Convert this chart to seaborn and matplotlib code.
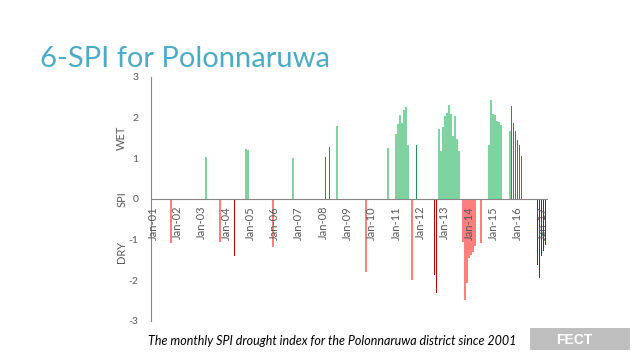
import matplotlib
matplotlib.use("Agg")
import matplotlib.pyplot as plt
import seaborn as sns
import numpy as np
import pandas as pd
from matplotlib.patches import Rectangle

# ---------------- data (monthly 6-SPI, only |SPI| >= 1 shown) ----------------
lg_months = ["2003-03", "2004-11", "2004-12", "2006-10", "2008-08", "2010-09",
             "2011-01", "2011-02", "2011-03", "2011-04", "2011-05", "2011-06", "2011-07",
             "2012-10", "2012-11", "2012-12", "2013-01", "2013-02", "2013-03", "2013-04",
             "2013-05", "2013-06", "2013-07", "2013-08",
             "2014-11", "2014-12", "2015-01", "2015-02", "2015-03", "2015-04", "2015-05",
             "2015-09"]
lg_values = [1.04, 1.23, 1.20, 1.02, 1.79, 1.25,
             1.59, 1.84, 2.06, 1.87, 2.20, 2.26, 1.32,
             1.71, 1.18, 1.77, 2.04, 2.12, 2.32, 2.08,
             1.55, 2.05, 1.47, 1.18,
             1.33, 2.43, 2.09, 2.06, 1.93, 1.90, 1.83,
             1.66]

dg_months = ["2008-02", "2008-04", "2011-11", "2015-10", "2015-11", "2015-12",
             "2016-01", "2016-02", "2016-03"]
dg_values = [1.04, 1.28, 1.32, 2.28, 1.88, 1.66, 1.45, 1.32, 1.05]

lr_months = ["2001-10", "2003-10", "2005-12", "2009-10", "2011-09",
             "2013-10", "2013-11", "2013-12", "2014-01", "2014-02", "2014-03", "2014-04",
             "2014-07"]
lr_values = [-1.09, -1.05, -1.17, -1.80, -1.98,
             -1.05, -2.49, -2.06, -1.45, -1.37, -1.30, -1.15,
             -1.09]

dr_months = ["2004-05", "2012-08", "2012-09", "2016-11", "2016-12", "2017-01",
             "2017-02", "2017-03"]
dr_values = [-1.39, -1.87, -2.30, -1.63, -1.95, -1.40, -1.27, -1.12]

tick_labels = ["Jan-%02d" % y for y in range(1, 18)]
y_ticks = [-3, -2, -1, 0, 1, 2, 3]

title = "6-SPI for Polonnaruwa"
caption = "The monthly SPI drought index for the Polonnaruwa district since 2001"
badge = "FECT"

# ---------------- helpers ----------------
N_MONTHS = 195


def month_index(s):
    y, m = s.split("-")
    return (int(y) - 2001) * 12 + int(m) - 1


def full_series(months, values):
    v = np.zeros(N_MONTHS)
    for mo, val in zip(months, values):
        v[month_index(mo)] = val
    return pd.DataFrame({"month": np.arange(N_MONTHS), "spi": v})


sns.set_theme(style="white")
plt.rcParams["font.family"] = ["Lato", "DejaVu Sans"]

fig = plt.figure(figsize=(6.4, 3.6), dpi=100)
ax = fig.add_axes([151 / 640, 1 - 321 / 360, 396 / 640, 244 / 360])

series = [
    (lg_months, lg_values, "#7fd3a0", 1.0, True),
    (lr_months, lr_values, "#ff7f7f", 1.0, True),
    (dg_months, dg_values, "#1a9450", 0.5, False),
    (dr_months, dr_values, "#c00000", 0.5, False),
]
for months, values, col, w, aa in series:
    df = full_series(months, values)
    sns.barplot(data=df, x="month", y="spi", native_scale=True, width=w,
                color=col, saturation=1, linewidth=0, edgecolor="none",
                antialiased=aa, errorbar=None, ax=ax)

ax.set_xlim(-1, 194.5)
ax.set_ylim(-3, 3)
ax.set_xlabel("")
ax.set_ylabel("")
ax.set_axisbelow(False)

ax.set_xticks(np.arange(0, 17 * 12, 12), tick_labels)
ax.set_yticks(y_ticks, [str(t) for t in y_ticks])

for s in ["top", "right"]:
    ax.spines[s].set_visible(False)
ax.spines["bottom"].set_position(("data", 0))
ax.spines["bottom"].set_color("#868686")
ax.spines["left"].set_color("#868686")
ax.spines["bottom"].set_linewidth(0.8)
ax.spines["left"].set_linewidth(0.8)
ax.tick_params(axis="x", direction="out", length=3, width=0.8, color="#868686",
               pad=2, labelrotation=90, labelsize=8, labelcolor="#595959")
ax.tick_params(axis="y", length=0, pad=9, labelsize=7.5, labelcolor="#595959")
ax.grid(False)

ytr = ax.get_yaxis_transform()
for txt, yv in [("WET", 1.5), ("SPI", 0), ("DRY", -1.3)]:
    ax.text(-0.074, yv, txt, transform=ytr, rotation=90, ha="center", va="center",
            fontsize=8, color="#595959")

fig.text(40 / 640, 1 - 59 / 360, title, fontsize=21, color="#4bacc6",
         fontweight="normal", ha="left", va="center")

fig.text(332 / 640, 1 - 341 / 360, caption, fontsize=9, style="italic",
         color="#000000", ha="center", va="center")

fig.patches.append(Rectangle((530 / 640, 1 - 350 / 360), 100 / 640, 22 / 360,
                             transform=fig.transFigure, facecolor="#bfbfbf",
                             edgecolor="none", zorder=1))
fig.text(574 / 640, 1 - 339.5 / 360, badge, fontsize=10, fontweight="bold",
         color="white", ha="center", va="center",
         family=["Liberation Sans", "DejaVu Sans"], zorder=2)

fig.savefig("out.png", dpi=100)
